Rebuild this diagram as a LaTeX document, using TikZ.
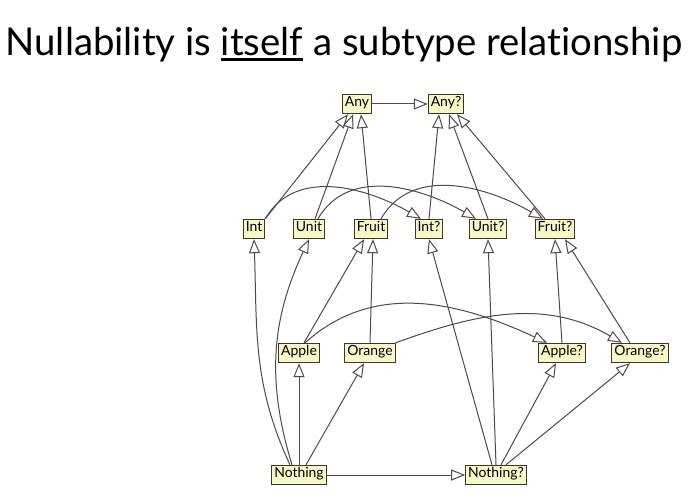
\documentclass[tikz,border=0pt]{standalone}
\usepackage{fontspec}
\setmainfont{Lato}[Ligatures={NoCommon}]
\usetikzlibrary{arrows.meta}
\definecolor{boxfill}{RGB}{248,248,198}
\definecolor{boxline}{RGB}{55,55,45}
\definecolor{edgeline}{RGB}{75,75,75}
\newcommand\ulword[1]{\setbox0\hbox{#1}\rlap{\rule[-5bp]{\wd0}{2.6bp}}\box0\relax}

\begin{document}
\begin{tikzpicture}[x=1bp,y=1bp,
  typebox/.style={draw=boxline,fill=boxfill,line width=1bp,inner xsep=2.5bp,inner ysep=5bp,
    text height=0.72em,text depth=0.22em,font=\fontsize{14}{16}\selectfont},
  sub/.style={draw=edgeline,line width=1bp,-{Triangle[open,length=14bp,width=11bp,fill=white]}}]
  \useasboundingbox (0,0) rectangle (695,-498);
  \fill[white] (0,0) rectangle (695,-498);
  \node[anchor=base,font=\fontsize{38.5}{44}\selectfont] (title) at (344,-56)
    {Nullability is \ulword{itself} a subtype relationship};

  \node[typebox] (any) at (357,-104) {Any};
  \node[typebox] (anyq) at (446,-104) {Any?};
  \node[typebox] (int) at (254,-229) {Int};
  \node[typebox] (unit) at (309,-229) {Unit};
  \node[typebox] (fruit) at (371,-229) {Fruit};
  \node[typebox] (intq) at (429,-229) {Int?};
  \node[typebox] (unitq) at (488,-229) {Unit?};
  \node[typebox] (fruitq) at (555,-229) {Fruit?};
  \node[typebox] (apple) at (299,-353) {Apple};
  \node[typebox] (orange) at (370,-353) {Orange};
  \node[typebox] (appleq) at (562,-353) {Apple?};
  \node[typebox] (orangeq) at (640,-353) {Orange?};
  \node[typebox] (nothing) at (299,-475) {Nothing};
  \node[typebox] (nothingq) at (496,-475) {Nothing?};

  \draw[sub] (any) -- (anyq);
  \draw[sub] (int.north east) -- ([xshift=-9bp]any.south);
  \draw[sub] ([xshift=6bp]unit.north) -- ([xshift=-4bp]any.south);
  \draw[sub] (fruit.north) -- ([xshift=4bp]any.south);
  \draw[sub] (intq.north) -- ([xshift=-7bp]anyq.south);
  \draw[sub] (unitq.north) -- ([xshift=3bp]anyq.south);
  \draw[sub] ([xshift=-10bp]fruitq.north) -- ([xshift=11bp]anyq.south);

  \draw[sub] (int.north east) to[out=60,in=150] ([xshift=-8bp]intq.north);
  \draw[sub] ([xshift=9bp]unit.north) to[out=60,in=150] ([xshift=-12bp]unitq.north);
  \draw[sub] ([xshift=10bp]fruit.north) to[out=60,in=150] ([xshift=-12bp]fruitq.north);

  \draw[sub] ([xshift=5bp]apple.north) -- ([xshift=-7bp]fruit.south);
  \draw[sub] (orange.north) -- ([xshift=2bp]fruit.south);
  \draw[sub] (appleq.north) -- (fruitq.south);
  \draw[sub] ([xshift=-10bp]orangeq.north) -- ([xshift=10bp]fruitq.south);
  \draw[sub] ([xshift=6bp]apple.north) to[out=42,in=155] ([xshift=-15bp]appleq.north);
  \draw[sub] (orange.north east) to[out=20,in=150] ([xshift=-18bp]orangeq.north);

  \draw[sub] ([xshift=-9bp]nothing.north) to[out=115,in=-88] (int.south);
  \draw[sub] ([xshift=-7bp]nothing.north) to[out=107,in=-115] (unit.south);
  \draw[sub] (nothing.north) -- (apple.south);
  \draw[sub] ([xshift=7bp]nothing.north) -- ([xshift=-6bp]orange.south);
  \draw[sub] (nothing) -- (nothingq);

  \draw[sub] ([xshift=-4bp]nothingq.north) -- (intq.south);
  \draw[sub] (nothingq.north) -- (unitq.south);
  \draw[sub] ([xshift=5bp]nothingq.north) -- ([xshift=-6bp]appleq.south);
  \draw[sub] ([xshift=10bp]nothingq.north) -- ([xshift=-10bp]orangeq.south);
\end{tikzpicture}
\end{document}
